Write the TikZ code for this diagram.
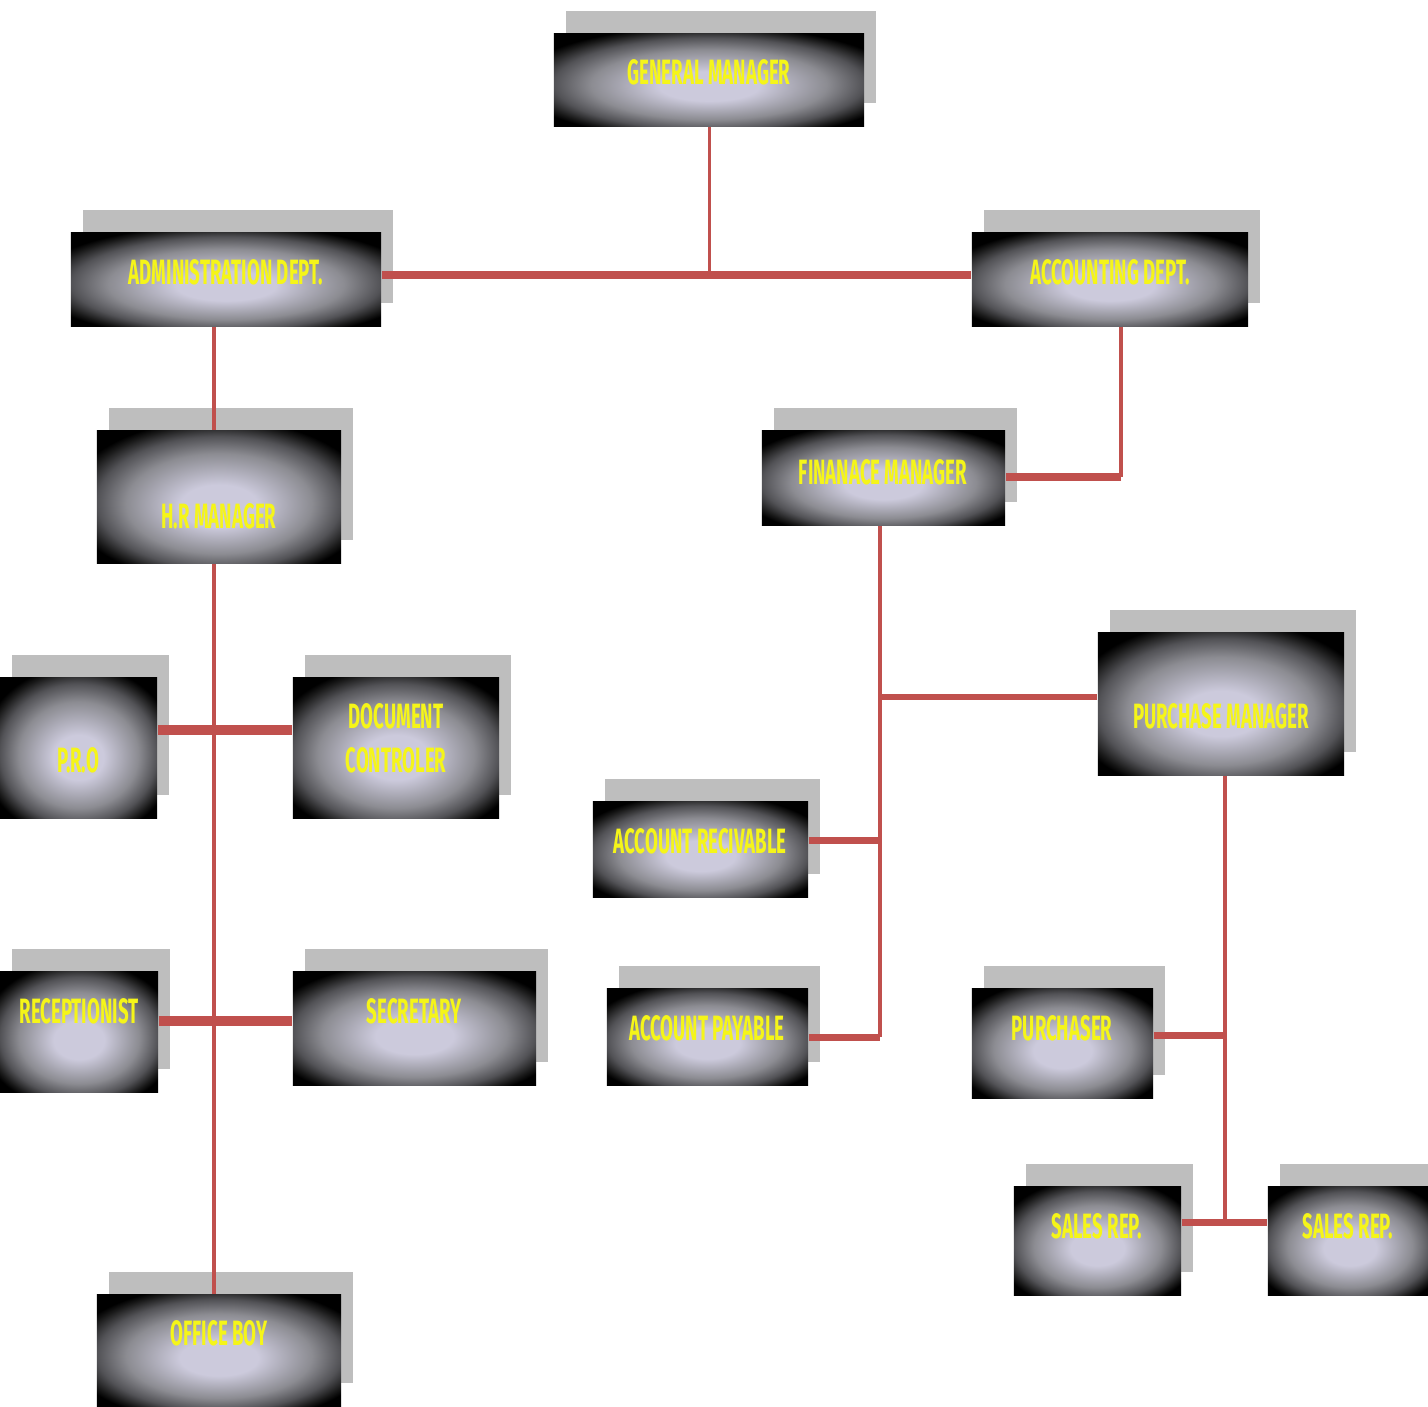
\documentclass[tikz,border=0pt]{standalone}
\usepackage{fontspec}
\newfontfamily\boxfont{Fira Sans}[FakeStretch=0.53]
\usetikzlibrary{shadows,calc}
\definecolor{org_red}{RGB}{192, 80, 77}
\definecolor{org_shadow}{RGB}{190, 190, 190}
\definecolor{org_light}{RGB}{204, 202, 220}
\definecolor{org_mid}{RGB}{140, 140, 146}
\definecolor{org_dark}{RGB}{82, 82, 86}
\definecolor{org_text}{RGB}{245, 245, 25}
\pgfdeclareradialshading{orgshade}{\pgfpoint{0bp}{-4bp}}{color(0bp)=(org_light);
  color(8bp)=(org_light); color(19bp)=(org_mid); color(25bp)=(org_dark);
  color(29bp)=(black!90); color(31bp)=(black); color(50bp)=(black)}
\tikzstyle{ob}=[rectangle,inner sep=0pt,shade,shading=orgshade,
  general shadow={fill=org_shadow,shadow xshift=0.12cm,shadow yshift=0.23cm}]
\tikzstyle{ot}=[text=org_text,font=\boxfont\bfseries\fontsize{10}{12.5}\selectfont,
  align=center,inner sep=0pt]
\tikzstyle{ol}=[draw=org_red]

\begin{document}
\begin{tikzpicture}[x=0.01cm, y=-0.01cm]
    \useasboundingbox (0,0) rectangle (1428,1406);
    \node [style=ob, minimum width=3.10cm, minimum height=0.92cm] (gm) at (709, 80) {};
    \node [style=ob, minimum width=3.10cm, minimum height=0.93cm] (adm) at (226, 279.5) {};
    \node [style=ob, minimum width=2.76cm, minimum height=0.93cm] (acc) at (1110, 279.5) {};
    \node [style=ob, minimum width=2.44cm, minimum height=1.32cm] (hr) at (219, 497) {};
    \node [style=ob, minimum width=2.43cm, minimum height=0.94cm] (fin) at (883.5, 478) {};
    \node [style=ob, minimum width=2.46cm, minimum height=1.42cm] (pm) at (1221, 704) {};
    \node [style=ob, minimum width=1.57cm, minimum height=1.40cm] (pro) at (78.5, 748) {};
    \node [style=ob, minimum width=2.06cm, minimum height=1.40cm] (doc) at (396, 748) {};
    \node [style=ob, minimum width=2.15cm, minimum height=0.95cm] (ar) at (700.5, 849.5) {};
    \node [style=ob, minimum width=2.01cm, minimum height=0.96cm] (ap) at (707.5, 1037) {};
    \node [style=ob, minimum width=1.58cm, minimum height=1.20cm] (rec) at (79, 1032) {};
    \node [style=ob, minimum width=2.43cm, minimum height=1.13cm] (sec) at (414.5, 1028.5) {};
    \node [style=ob, minimum width=1.81cm, minimum height=1.09cm] (pur) at (1062.5, 1043.5) {};
    \node [style=ob, minimum width=1.67cm, minimum height=1.08cm] (sr1) at (1097.5, 1241) {};
    \node [style=ob, minimum width=1.64cm, minimum height=1.08cm] (sr2) at (1350, 1241) {};
    \node [style=ob, minimum width=2.44cm, minimum height=1.11cm] (ob) at (219, 1350.5) {};

    \node [style=ot] (gm-t) at (709, 72) {GENERAL MANAGER};
    \node [style=ot] (adm-t) at (226, 272) {ADMINISTRATION DEPT.};
    \node [style=ot] (acc-t) at (1110, 272) {ACCOUNTING DEPT.};
    \node [style=ot] (hr-t) at (219, 516) {H.R MANAGER};
    \node [style=ot] (fin-t) at (883, 472) {FINANACE MANAGER};
    \node [style=ot] (pm-t) at (1221, 716) {PURCHASE MANAGER};
    \node [style=ot] (pro-t) at (78, 760) {P.R.O};
    \node [style=ot] (doc-t) at (396, 738) {DOCUMENT\\CONTROLER};
    \node [style=ot] (ar-t) at (700, 841) {ACCOUNT RECIVABLE};
    \node [style=ot] (ap-t) at (707, 1028) {ACCOUNT PAYABLE};
    \node [style=ot] (rec-t) at (79, 1011) {RECEPTIONIST};
    \node [style=ot] (sec-t) at (414, 1011) {SECRETARY};
    \node [style=ot] (pur-t) at (1062, 1028) {PURCHASER};
    \node [style=ot] (sr1-t) at (1097, 1226) {SALES REP.};
    \node [style=ot] (sr2-t) at (1348, 1226) {SALES REP.};
    \node [style=ot] (ob-t) at (219, 1333) {OFFICE BOY};

    \coordinate (j1) at (710, 275);
    \coordinate (j2) at (214, 0);
    \coordinate (j3) at (1121, 477);
    \coordinate (j4) at (880, 1037);
    \coordinate (j5) at (1225, 1222);
    \draw [style=ol, line width=0.85pt] (gm.south) -- (gm.south |- j1);
    \draw [style=ol, line width=2.3pt] (adm.east |- j1) -- (acc.west |- j1);
    \draw [style=ol, line width=1.1pt] (adm.south -| j2) -- (hr.north -| j2);
    \draw [style=ol, line width=1.4pt] (acc.south -| j3) -- (j3);
    \draw [style=ol, line width=2.3pt] (j3) -- (fin.east |- j3);
    \draw [style=ol, line width=1pt] (hr.south -| j2) -- (ob.north -| j2);
    \draw [style=ol, line width=2.8pt] (pro.east |- 0,730) -- (doc.west |- 0,730);
    \draw [style=ol, line width=2.6pt] (rec.east |- 0,1021) -- (sec.west |- 0,1021);
    \draw [style=ol, line width=0.9pt] (fin.south -| j4) -- (j4);
    \draw [style=ol, line width=1.7pt] (j4 |- 0,697) -- (pm.west |- 0,697);
    \draw [style=ol, line width=2pt] (ar.east |- 0,840) -- (j4 |- 0,840);
    \draw [style=ol, line width=2pt] (ap.east |- j4) -- (j4);
    \draw [style=ol, line width=1.1pt] (pm.south -| j5) -- (j5);
    \draw [style=ol, line width=2pt] (pur.east |- 0,1035) -- (j5 |- 0,1035);
    \draw [style=ol, line width=2pt] (sr1.east |- j5) -- (sr2.west |- j5);
\end{tikzpicture}
\end{document}
